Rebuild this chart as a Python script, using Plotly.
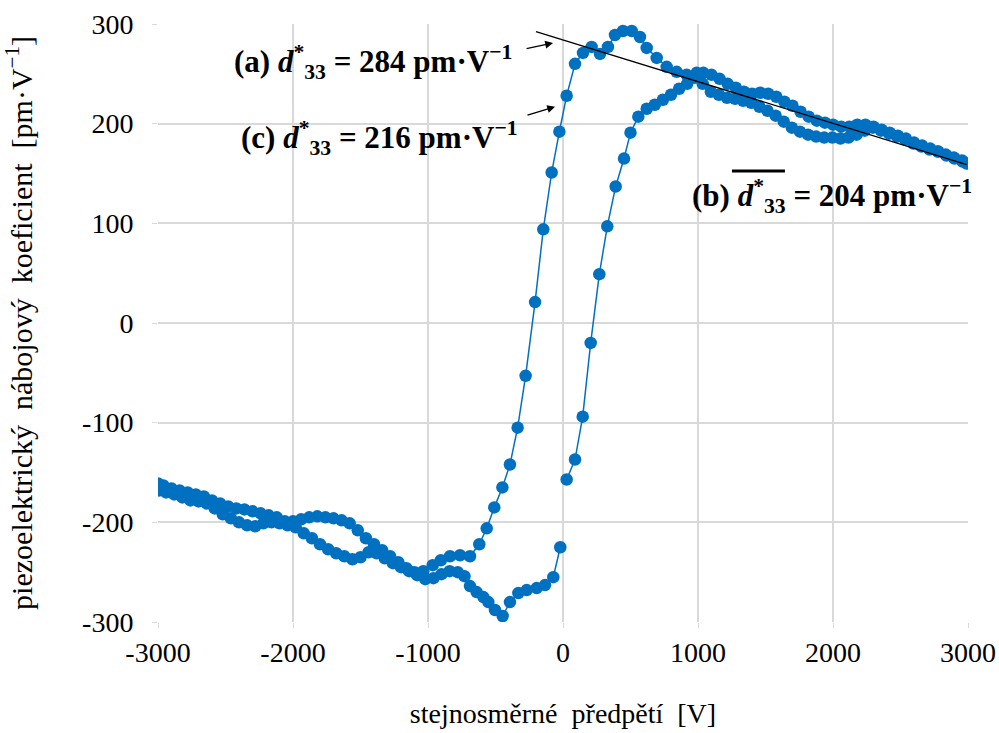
import plotly.graph_objects as go

# Segment A: initial ascending run 0 -> +3000 V
xa = [27, 89, 146, 205, 269, 328, 390, 452, 500, 558, 620, 680, 740, 800, 860, 920, 975,
      1035, 1095, 1155, 1215, 1275, 1335, 1395, 1455, 1515, 1575, 1635, 1695, 1755, 1815,
      1875, 1935, 1995, 2055, 2115, 2175, 2235, 2295, 2355, 2415, 2475, 2535, 2595, 2655,
      2715, 2775, 2835, 2895, 2955, 2990]
ya = [-157, -137, -94, -20, 49, 97, 137, 165, 191, 207, 215, 219, 224, 229, 235, 240, 246,
      240, 232, 229, 226, 225, 223, 221, 217, 213, 208, 202, 196, 192, 189,
      187, 186, 186, 185, 186, 189, 193, 196, 193, 190, 187, 184, 180, 177,
      174, 172, 169, 166, 163, 160]

# Segment B: descending run +3000 -> -3000 V
xb = [2960, 2900, 2840, 2780, 2720, 2660, 2600, 2540, 2480, 2420, 2360, 2300, 2240, 2180,
      2120, 2060, 2000, 1940, 1880, 1820, 1760, 1700, 1640, 1580, 1520, 1460, 1400, 1340,
      1280, 1220, 1160, 1100, 1040, 990, 916, 842, 768, 694, 620, 570, 509, 444, 385, 333,
      274, 212, 148, 89, 27, -27, -84, -146, -207, -277, -336, -393, -449, -509, -565,
      -620, -689, -763, -837, -905, -965, -1035, -1100, -1160, -1220, -1281, -1340, -1400,
      -1460, -1520, -1580, -1640, -1700, -1760, -1820, -1880, -1940, -2000, -2060, -2120,
      -2180, -2240, -2300, -2360, -2420, -2480, -2540, -2600, -2660, -2720, -2780, -2840,
      -2900, -2960, -3000]
yb = [162, 165, 168, 172, 175, 178, 181, 185, 188, 191, 194, 197, 199, 199,
      197, 197, 199, 201, 203, 207, 212, 218, 222, 227, 230, 231, 230, 232,
      236, 240, 245, 249, 251, 251, 249, 252, 257, 266, 276, 287, 293, 293, 289, 277,
      270, 277, 271, 260, 228, 192, 151, 94, 21, -53, -105, -142, -165, -185, -206,
      -222, -234, -233, -234, -238, -243, -249, -250, -246, -240, -234, -228, -222,
      -216, -208, -201, -198, -196, -195, -194, -195, -197, -199, -199, -195,
      -193, -191, -189, -187, -186, -184, -181, -178, -174, -172, -170, -168,
      -166, -163, -161]

# Segment C: ascending run -3000 -> 0 V
xc = [-2990, -2940, -2880, -2820, -2760, -2700, -2640, -2580, -2520, -2460, -2400, -2340,
      -2280, -2220, -2160, -2100, -2040, -1980, -1920, -1860, -1800, -1740, -1680, -1620,
      -1560, -1500, -1440, -1380, -1320, -1260, -1200, -1140, -1080, -1020, -960, -900,
      -840, -780, -730, -689, -640, -590, -553, -504, -447, -393, -331, -269, -195, -133,
      -72, -20]
yc = [-168, -170, -172, -175, -178, -179, -181, -186, -192, -196, -200, -203,
      -204, -201, -200, -201, -203, -205, -211, -216, -222, -227, -231, -234,
      -237, -235, -230, -231, -236, -241, -245, -249, -253, -257, -256, -252,
      -249, -250, -254, -264, -270, -275, -280, -288, -294, -280, -271, -268, -266, -263,
      -255, -225]

# Linear fit of the high-field part
trend_x = [-200, 2990]
trend_y = [292.4, 159.0]

x_ticks = [-3000, -2000, -1000, 0, 1000, 2000, 3000]
y_ticks = [-300, -200, -100, 0, 100, 200, 300]

BLUE = "#0070C0"
FONT = "Liberation Serif"

fig = go.Figure()
fig.add_trace(go.Scatter(
    x=xa + xb + xc, y=ya + yb + yc, mode="lines+markers",
    line=dict(color=BLUE, width=1.5),
    marker=dict(color=BLUE, size=12.5),
    showlegend=False, hoverinfo="skip"))
fig.add_trace(go.Scatter(
    x=trend_x, y=trend_y, mode="lines",
    line=dict(color="black", width=1.3), showlegend=False, hoverinfo="skip"))

ann_font = dict(family=FONT, size=31, color="black")
annotations = [
    dict(x=-360, y=262, xref="x", yref="y", xanchor="right", yanchor="middle",
         text="<b>(a) <i>d</i><sup>*</sup><sub>33</sub> = 284 pm·V<sup>−1</sup></b>",
         showarrow=False, font=ann_font),
    dict(x=-320, y=186, xref="x", yref="y", xanchor="right", yanchor="middle",
         text="<b>(c) <i>d</i><sup>*</sup><sub>33</sub> = 216 pm·V<sup>−1</sup></b>",
         showarrow=False, font=ann_font),
    dict(x=1995, y=127, xref="x", yref="y", xanchor="center", yanchor="middle",
         text="<b>(b) <i>d</i><sup>*</sup><sub>33</sub> = 204 pm·V<sup>−1</sup></b>",
         showarrow=False, font=ann_font),
    dict(x=-74, y=281, ax=-281, ay=275, xref="x", yref="y", axref="x", ayref="y",
         text="", showarrow=True, arrowhead=2, arrowsize=1.2, arrowwidth=1.3,
         arrowcolor="black"),
    dict(x=-59, y=217, ax=-274, ay=208, xref="x", yref="y", axref="x", ayref="y",
         text="", showarrow=True, arrowhead=2, arrowsize=1.2, arrowwidth=1.3,
         arrowcolor="black"),
]

fig.update_layout(
    width=999, height=733,
    margin=dict(l=158, r=31, t=24, b=111),
    paper_bgcolor="white", plot_bgcolor="white",
    font=dict(family=FONT, size=28, color="black"),
    annotations=annotations,
    shapes=[dict(type="line", xref="paper", yref="paper",
                 x0=0.7086, x1=0.774, y0=0.754, y1=0.754,
                 line=dict(color="black", width=3))],
)
fig.update_xaxes(
    range=[-3000, 3000], tickvals=x_ticks, ticktext=[str(v) for v in x_ticks],
    showgrid=True, gridcolor="#D9D9D9", gridwidth=1.5, zeroline=False,
    showline=False, ticks="outside", ticklen=5, tickcolor="#D9D9D9",
    automargin=False,
    tickfont=dict(family=FONT, size=28, color="black"),
    title=dict(text="stejnosměrné\u00a0\u00a0předpětí\u00a0\u00a0[V]",
               font=dict(family=FONT, size=28, color="black"), standoff=36))
fig.update_yaxes(
    range=[-300, 300], tickvals=y_ticks, ticktext=[str(v) for v in y_ticks],
    showgrid=True, gridcolor="#D9D9D9", gridwidth=1.5, zeroline=False,
    showline=False, ticks="outside", ticklen=5, tickcolor="#D9D9D9",
    ticklabelstandoff=13, automargin=False,
    tickfont=dict(family=FONT, size=28, color="black"),
    title=dict(text="piezoelektrický\u00a0\u00a0nábojový\u00a0\u00a0koeficient\u00a0\u00a0[pm·V<sup>−1</sup>]",
               font=dict(family=FONT, size=30, color="black"), standoff=40))

fig.write_html("out.html")
